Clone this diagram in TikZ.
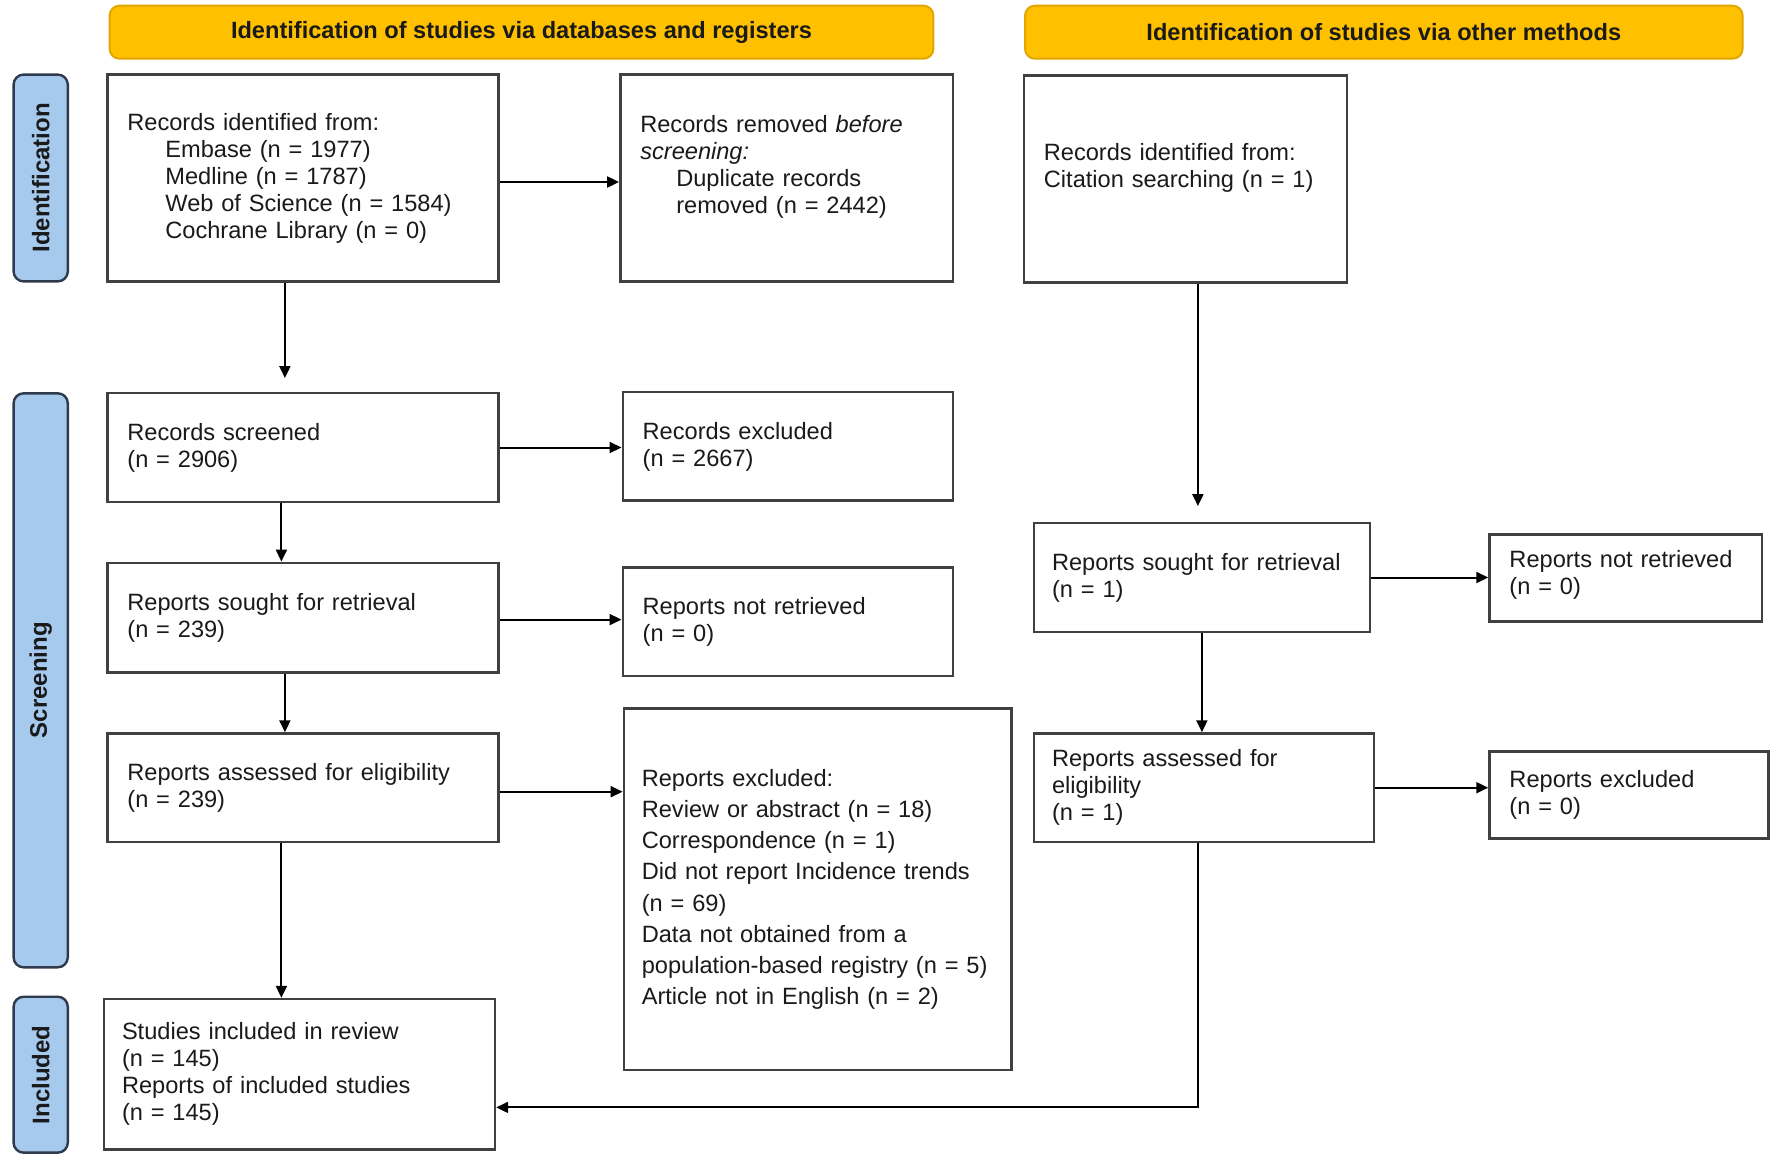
\documentclass[tikz,border=0pt]{standalone}
\usepackage{fontspec}
\setmainfont{Liberation Sans}
\usetikzlibrary{arrows.meta}
\definecolor{hdrfill}{HTML}{FFC000}
\definecolor{hdrdraw}{HTML}{E3A600}
\definecolor{sidefill}{HTML}{A6C9EE}
\definecolor{sidedraw}{HTML}{2F3B4C}
\definecolor{boxdraw}{HTML}{404040}
\definecolor{txt}{HTML}{1A1A1A}
\begin{document}
\begin{tikzpicture}[x=0.5pt,y=-0.5pt,
  box/.style={draw=boxdraw, line width=1.2pt, fill=white, inner xsep=10pt, inner ysep=0pt,
    align=left, font=\fontsize{11.8}{13.5}\selectfont, text=txt, anchor=center},
  hdr/.style={draw=hdrdraw, line width=1pt, fill=hdrfill, rounded corners=5pt,
    font=\bfseries\fontsize{11.8}{13.5}\selectfont, inner sep=0pt, text=txt},
  side/.style={draw=sidedraw, line width=1.2pt, fill=sidefill, rounded corners=5pt,
    inner sep=0pt, font=\bfseries\fontsize{12}{14}\selectfont, text=txt},
  arr/.style={-{Triangle[length=6pt,width=5.5pt]}, line width=1pt, draw=black},
]
\useasboundingbox[fill=white] (0,0) rectangle (1772,1161);

% headers
\node[hdr, minimum width=411.9pt, minimum height=26.55pt] (H1) at (521.5,32.2)
  {Identification of studies via databases and registers};
\node[hdr, minimum width=358.8pt, minimum height=26.55pt] (H2) at (1383.8,32.2)
  {Identification of studies via other methods};

% side labels
\node[side, minimum width=27.1pt, minimum height=103.4pt] (L1) at (40.7,178) {\rotatebox{90}{Identification}};
\node[side, minimum width=27.1pt, minimum height=287pt] (L2) at (40.7,680.3) {\rotatebox{90}{Screening}};
\node[side, minimum width=27.1pt, minimum height=77.95pt] (L3) at (40.7,1074.7) {\rotatebox{90}{Included}};

% left column
\node[box, minimum width=195.5pt, minimum height=103.4pt, text width=175.5pt] (B1) at (302.9,178)
  {Records identified from:\\
   \hspace*{19pt}Embase (n = 1977)\\
   \hspace*{19pt}Medline (n = 1787)\\
   \hspace*{19pt}Web of Science (n = 1584)\\
   \hspace*{19pt}Cochrane Library (n = 0)};
\node[box, minimum width=195.5pt, minimum height=54.25pt, text width=175.5pt] (B4) at (302.9,447.5)
  {Records screened\\(n = 2906)};
\node[box, minimum width=195.5pt, minimum height=54.8pt, text width=175.5pt] (B6) at (302.9,617.6)
  {Reports sought for retrieval\\(n = 239)};
\node[box, minimum width=195.5pt, minimum height=54.25pt, text width=175.5pt] (B8) at (302.9,787.7)
  {Reports assessed for eligibility\\(n = 239)};
\node[box, minimum width=195.5pt, minimum height=75.15pt, text width=177.5pt, inner xsep=9pt] (B10) at (299.5,1074.2)
  {Studies included in review\\(n = 145)\\Reports of included studies\\(n = 145)};

% middle column
\node[box, minimum width=166.2pt, minimum height=103.4pt, text width=146.2pt] (B2) at (786.5,178)
  {Records removed \textit{before}\\
   \textit{screening:}\\
   \hspace*{18pt}Duplicate records\\
   \hspace*{18pt}removed (n = 2442)\\\mbox{}};
\node[box, minimum width=165pt, minimum height=54.25pt, text width=145pt] (B5) at (787.7,446.4)
  {Records excluded\\(n = 2667)};
\node[box, minimum width=165pt, minimum height=54.25pt, text width=145pt] (B7) at (787.7,621.6)
  {Reports not retrieved\\(n = 0)};
\node[box, minimum width=193.8pt, minimum height=180.8pt, text width=175.8pt, inner xsep=9pt,
  font=\fontsize{11.8}{15.6}\selectfont] (B9) at (817.6,889.4)
  {Reports excluded:\\
   Review or abstract (n = 18)\\
   Correspondence (n = 1)\\
   Did not report Incidence trends\\
   (n = 69)\\
   Data not obtained from a\\
   population-based registry (n = 5)\\
   Article not in English (n = 2)};

% right column
\node[box, minimum width=161.6pt, minimum height=103.4pt, text width=141.6pt] (B3) at (1185.5,179.1)
  {Records identified from:\\Citation searching (n = 1)\\\mbox{}};
\node[box, minimum width=167.85pt, minimum height=54.25pt, text width=149.85pt, inner xsep=9pt] (B11) at (1201.9,577.5)
  {Reports sought for retrieval\\(n = 1)};
\node[box, minimum width=170.1pt, minimum height=54.25pt, text width=152.1pt, inner xsep=9pt] (B13) at (1204.1,787.7)
  {Reports assessed for\\eligibility\\(n = 1)};
\node[box, minimum width=136.15pt, minimum height=43.5pt, text width=116.15pt] (B12) at (1625.6,578)
  {Reports not retrieved\\(n = 0)\\[-7.5pt]\mbox{}};
\node[box, minimum width=139.55pt, minimum height=43.5pt, text width=119.55pt] (B14) at (1629,795)
  {Reports excluded\\(n = 0)};

% connectors
\draw[arr, shorten >=7pt] ([xshift=-9pt]B1.south) -- ([xshift=-9pt]B4.north);
\draw[arr] ([yshift=-2pt]B1.east) -- ([yshift=-2pt]B2.west);
\draw[arr] (B4.east) -- (B4.east -| B5.west);
\draw[arr] ([xshift=-10.75pt]B4.south) -- ([xshift=-10.75pt]B6.north);
\draw[arr] ([yshift=-1pt]B6.east) -- ([yshift=-1pt]B6.east -| B7.west);
\draw[arr] ([xshift=-9pt]B6.south) -- ([xshift=-9pt]B8.north);
\draw[arr] ([yshift=-2pt]B8.east) -- ([yshift=-2pt]B8.east -| B9.west);
\draw[arr] ([xshift=-10.75pt]B8.south) -- ([xshift=-10.75pt]B8.south |- B10.north);
\draw[arr, shorten >=8pt] ([xshift=6.2pt]B3.south) -- ([xshift=6.2pt]B3.south |- B11.north);
\draw[arr] (B11.east) -- (B11.east -| B12.west);
\draw[arr] (B11.south) -- (B11.south |- B13.north);
\draw[arr] (B13.east) -- (B13.east -| B14.west);
\draw[arr] ([xshift=-3pt]B13.south) |- ([yshift=-16.6pt]B10.east);
\end{tikzpicture}
\end{document}
